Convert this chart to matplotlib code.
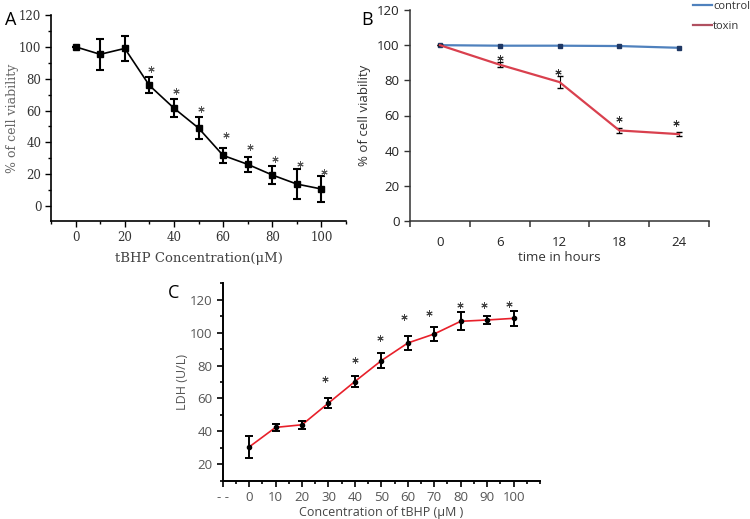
import matplotlib
matplotlib.use('Agg')
import matplotlib.pyplot as plt
from matplotlib.ticker import MultipleLocator
from matplotlib.lines import Line2D

# A: cell viability vs tBHP concentration
conc = [0, 10, 20, 30, 40, 50, 60, 70, 80, 90, 100]
via_a = [100, 95.3, 99, 75.8, 61.5, 49, 31.8, 26.2, 19.5, 13.8, 10.7]
err_a = [0, 9.6, 7.6, 5, 5.5, 7, 4.8, 4.8, 5.7, 9.3, 8]
star_a_x = [30.7, 40.8, 51, 61, 71, 81, 91.2, 101]
star_a_y = [85.9, 72.5, 60.7, 44.8, 37.3, 29.5, 26.2, 21.2]

# B: viability over time
hours = ['0', '6', '12', '18', '24']
control = [100, 99.7, 99.7, 99.5, 98.5]
toxin = [100, 88.9, 79, 51.5, 49.4]
err_toxin = [0, 1.3, 3.4, 1.5, 1]
star_b_x = [1.0, 1.97, 2.99, 3.95]
star_b_y = [92.6, 84.8, 57.8, 56]

# C: LDH release
ldh = [30.5, 42.4, 44, 57.2, 70.3, 83, 93.7, 99.2, 106.9, 107.7, 108.7]
err_c = [6.5, 2.2, 2.4, 2.8, 3.6, 4.7, 4.2, 4.1, 5.5, 2.5, 4.7]
star_c_x = [28.8, 40.2, 49.4, 58.6, 68.1, 79.6, 89, 98.1]
star_c_y = [72, 83.6, 96.8, 109.5, 111.9, 117, 117, 117.4]

star = (6, 2, 0)
W, H = 750, 519
fig = plt.figure(figsize=(7.5, 5.19), dpi=100)

def box(l, t, r, b):
    return [l / W, 1 - b / H, (r - l) / W, (b - t) / H]

# ---- panel A ----
ax1 = fig.add_axes(box(51, 15, 346, 221))
ax1.errorbar(conc, via_a, yerr=err_a, fmt='s-', color='black', ms=4.5, lw=1.2,
             elinewidth=1.5, capsize=2.8, capthick=1.5)
ax1.plot(star_a_x, star_a_y, marker=star, ls='', ms=4.5, color='#555', mew=0.7)
ax1.set_xlim(-10, 110)
ax1.set_ylim(-9.4, 120)
ax1.spines[['top', 'right']].set_visible(False)
for s in ax1.spines.values():
    s.set_linewidth(1.2)
ax1.set_xticks(range(0, 101, 20))
ax1.xaxis.set_minor_locator(MultipleLocator(10))
ax1.set_yticks(range(0, 121, 20))
ax1.yaxis.set_minor_locator(MultipleLocator(10))
ax1.tick_params(which='both', direction='out', width=1, colors='black',
                labelcolor='#333', labelsize=8.5, pad=3)
ax1.tick_params(which='major', length=4)
ax1.tick_params(which='minor', length=2.5)
for lab in ax1.get_xticklabels() + ax1.get_yticklabels():
    lab.set_family('DejaVu Serif')
ax1.set_xlabel('tBHP Concentration(μM)', family='DejaVu Serif', fontsize=9.5, color='#444')
ax1.set_ylabel('% of cell viability', family='DejaVu Serif', fontsize=9, color='#666')
ax1.xaxis.set_label_coords(0.5, -0.15)
ax1.yaxis.set_label_coords(-0.11, 0.5)

# ---- panel B ----
ax2 = fig.add_axes(box(410, 10, 709, 221))
xb = list(range(len(hours)))
ax2.plot(xb, control, '-', color='#4f81bd', lw=1.6, marker='s', ms=3,
         mfc='#1f3864', mec='#1f3864')
ax2.errorbar(xb, toxin, yerr=err_toxin, fmt='-', color='#d9404e', lw=1.6,
             ecolor='black', elinewidth=0.8, capsize=2)
ax2.plot(star_b_x, star_b_y, marker=star, ls='', ms=4.5, color='#333', mew=0.7)
ax2.set_xlim(-0.5, 4.5)
ax2.set_ylim(0, 120)
ax2.spines[['top', 'right']].set_visible(False)
for s in ax2.spines.values():
    s.set_color('#333')
    s.set_linewidth(1.1)
ax2.set_xticks(xb, hours)
ax2.set_xticks([-0.5, 0.5, 1.5, 2.5, 3.5, 4.5], minor=True)
ax2.tick_params(axis='x', which='major', length=0, pad=11)
ax2.tick_params(axis='x', which='minor', length=4, width=1.1, color='#333')
ax2.set_yticks(range(0, 121, 20))
ax2.tick_params(axis='y', length=4, width=1, color='#333')
ax2.tick_params(labelsize=9.5, labelcolor='#222')
for lab in ax2.get_xticklabels() + ax2.get_yticklabels():
    lab.set_family('Open Sans')
ax2.set_xlabel('time in hours', family='Open Sans', fontsize=9.5, color='#333')
ax2.set_ylabel('% of cell viability', family='Open Sans', fontsize=9.5, color='#333')
ax2.xaxis.set_label_coords(0.5, -0.142)
ax2.yaxis.set_label_coords(-0.13, 0.5)
handles = [Line2D([], [], color='#4f81bd', lw=1.6),
           Line2D([], [], color='#b05060', lw=1.6)]
fig.legend(handles, ['control', 'toxin'], loc='upper left',
           bbox_to_anchor=(683 / W, 1.017), frameon=False,
           handlelength=1.7, handletextpad=0.1, labelspacing=0.8,
           prop={'family': 'Open Sans', 'size': 8}, labelcolor='#333')

# ---- panel C ----
ax3 = fig.add_axes(box(222.7, 283.3, 540, 480.7))
ax3.plot(conc, ldh, '-', color='#e8202a', lw=1.2)
ax3.errorbar(conc, ldh, yerr=err_c, fmt='o', color='black', ms=3,
             elinewidth=1.4, capsize=2.8, capthick=1.4)
ax3.plot(star_c_x, star_c_y, marker=star, ls='', ms=4.5, color='#444', mew=0.7)
ax3.set_xlim(-10, 110)
ax3.set_ylim(10, 130)
ax3.spines[['top', 'right']].set_visible(False)
for s in ax3.spines.values():
    s.set_linewidth(1.4)
ax3.set_xticks(range(-10, 101, 10), ['- -'] + [str(v) for v in range(0, 101, 10)])
ax3.xaxis.set_minor_locator(MultipleLocator(5))
ax3.set_yticks(range(20, 121, 20))
ax3.yaxis.set_minor_locator(MultipleLocator(10))
ax3.tick_params(which='both', direction='out', width=1.2, colors='black',
                labelcolor='#555', labelsize=9.5)
ax3.tick_params(which='major', length=4)
ax3.tick_params(which='minor', length=2.5)
for lab in ax3.get_xticklabels() + ax3.get_yticklabels():
    lab.set_family('Open Sans')
ax3.set_xlabel('Concentration of tBHP (μM )', family='Open Sans', fontsize=9, color='#444')
ax3.set_ylabel('LDH (U/L)', family='Open Sans', fontsize=9, color='#555')
ax3.xaxis.set_label_coords(0.5, -0.13)
ax3.yaxis.set_label_coords(-0.106, 0.5)

# panel letters
fig.text(5 / W, 1 - 20 / H, 'A', fontsize=13, family='Open Sans', va='center')
fig.text(361 / W, 1 - 20 / H, 'B', fontsize=13, family='Open Sans', va='center')
fig.text(168 / W, 1 - 293 / H, 'C', fontsize=13, family='Open Sans', va='center')

fig.savefig('out.png', dpi=100)
